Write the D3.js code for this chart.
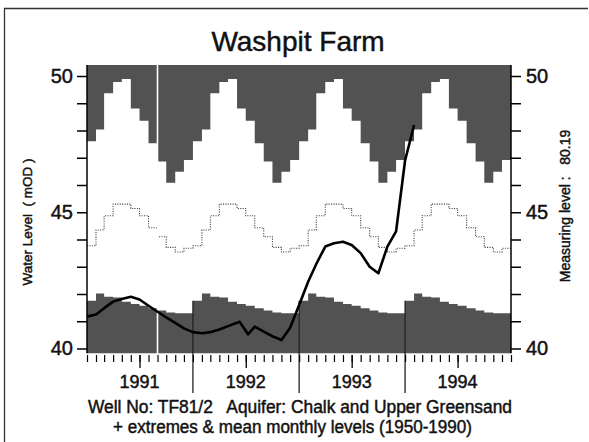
<!DOCTYPE html>
<html>
<head>
<meta charset="utf-8">
<script src="https://cdn.jsdelivr.net/npm/d3@7"></script>
<style>
body { margin: 0; background: #fff; }
text { font-family: "Liberation Sans", Arial, sans-serif; fill: #111; stroke: #111; stroke-width: 0.45px; }
</style>
</head>
<body>
<svg id="chart" width="589" height="442"></svg>
<script>
// ---DATA---//

var years = [ 1991, 1992, 1993, 1994 ];

// historical monthly levels 1950-1990, Jan..Dec (mOD)
var monthlyMax = [ 47.61, 48.04, 49.37, 49.78, 49.89, 48.81, 48.36, 47.53, 46.86, 46.08, 46.49, 46.92 ];
var monthlyMean = [ 43.77, 44.35, 44.87, 45.30, 45.30, 45.14, 44.87, 44.43, 44.10, 43.71, 43.54, 43.68 ];
var monthlyMin = [ 41.75, 42.02, 41.90, 41.87, 41.72, 41.63, 41.57, 41.48, 41.39, 41.32, 41.29, 41.29 ];

// observed readings
var readingDates = [ "1991-01-01", "1991-02-01", "1991-03-01", "1991-04-01", "1991-05-01", "1991-06-01",
		"1991-07-01", "1991-08-01", "1991-09-01", "1991-10-01", "1991-11-01", "1991-12-01",
		"1992-01-01", "1992-02-01", "1992-03-01", "1992-04-01", "1992-05-01", "1992-06-10",
		"1992-07-09", "1992-08-01", "1992-09-01", "1992-10-01", "1992-11-01", "1992-12-01",
		"1993-01-01", "1993-02-01", "1993-03-01", "1993-04-01", "1993-05-01", "1993-06-01",
		"1993-07-01", "1993-08-01", "1993-09-01", "1993-10-01", "1993-11-01", "1993-12-01",
		"1994-01-01", "1994-02-01" ];
var readingLevels = [ 41.17, 41.25, 41.48, 41.72, 41.82, 41.90, 41.80, 41.57, 41.35, 41.14, 40.94, 40.74,
		40.60, 40.56, 40.60, 40.70, 40.82, 40.98, 40.52, 40.80, 40.62, 40.45, 40.31, 40.76,
		41.60, 42.45, 43.10, 43.74, 43.86, 43.92, 43.80, 43.50, 43.00, 42.76, 43.74, 44.30,
		46.90, 48.20 ];

var levelTicks = [ 40, 45, 50 ];

// ---LAYOUT---//

var svg = d3.select("#chart");
var parseDate = d3.timeParse("%Y-%m-%d");

var left = 87, right = 511;
var levelTop = 50.4, levelBottom = 39.83;
var gray = "#525252";

var x = d3.scaleTime()
		.domain([ new Date(1991, 0, 1), new Date(1995, 0, 1) ])
		.range([ left, right ]);

var y = d3.scaleLinear()
		.domain([ 40, 50 ])
		.range([ 348.5, 76 ]);

// monthly step series over the whole period
var months = d3.timeMonth.range(new Date(1991, 0, 1), new Date(1995, 0, 1));
var steps = months.map(function(d) {
	return {
		date : d,
		max : monthlyMax[d.getMonth()],
		mean : monthlyMean[d.getMonth()],
		min : monthlyMin[d.getMonth()]
	};
});
steps.push({
	date : new Date(1995, 0, 1),
	max : monthlyMax[11],
	mean : monthlyMean[11],
	min : monthlyMin[11]
});

// frame
svg.append("path")
		.attr("d", "M4.5,446 V8.5 H588")
		.attr("fill", "none")
		.attr("stroke", "#333")
		.attr("stroke-width", 1.3);

// upper extreme (above max)
var upperArea = d3.area()
		.curve(d3.curveStepAfter)
		.x(function(d) { return x(d.date); })
		.y0(y(levelTop))
		.y1(function(d) { return y(d.max); });

svg.append("path")
		.datum(steps)
		.attr("d", upperArea)
		.attr("fill", gray);

// lower extreme (below min)
var lowerArea = d3.area()
		.curve(d3.curveStepAfter)
		.x(function(d) { return x(d.date); })
		.y0(y(levelBottom))
		.y1(function(d) { return y(d.min); });

svg.append("path")
		.datum(steps)
		.attr("d", lowerArea)
		.attr("fill", gray);

// mean monthly level
var meanLine = d3.line()
		.curve(d3.curveStepAfter)
		.x(function(d) { return x(d.date); })
		.y(function(d) { return y(d.mean); });

svg.append("path")
		.datum(steps)
		.attr("d", meanLine)
		.attr("fill", "none")
		.attr("stroke", "#444")
		.attr("stroke-width", 1.1)
		.attr("stroke-dasharray", "1.1,1.3");

// year boundaries
svg.selectAll(".yearLine").data(years.slice(1)).enter()
		.append("line")
		.attr("class", "yearLine")
		.attr("x1", function(d) { return x(new Date(d, 0, 1)); })
		.attr("x2", function(d) { return x(new Date(d, 0, 1)); })
		.attr("y1", y(monthlyMin[0]))
		.attr("y2", 393)
		.attr("stroke", "#222")
		.attr("stroke-width", 1.3);

// scan gap
svg.append("line")
		.attr("x1", 157.5).attr("x2", 157.5)
		.attr("y1", 62).attr("y2", 392)
		.attr("stroke", "#fff")
		.attr("stroke-width", 1.6);

// hydrograph
var readings = readingDates.map(function(d, i) {
	return { date : parseDate(d), level : readingLevels[i] };
});

var levelLine = d3.line()
		.x(function(d) { return x(d.date); })
		.y(function(d) { return y(d.level); });

svg.append("path")
		.datum(readings)
		.attr("d", levelLine)
		.attr("fill", "none")
		.attr("stroke", "#000")
		.attr("stroke-width", 2.6)
		.attr("stroke-linejoin", "round");

// ---AXES---//

function levelFormat(d) {
	return levelTicks.indexOf(d) >= 0 ? d : "";
}

var leftAxis = svg.append("g")
		.attr("transform", "translate(" + left + ",0)")
		.call(d3.axisLeft(y).tickValues(d3.range(40, 51)).tickSize(10).tickPadding(4).tickFormat(levelFormat));

var rightAxis = svg.append("g")
		.attr("transform", "translate(" + right + ",0)")
		.call(d3.axisRight(y).tickValues(d3.range(40, 51)).tickSize(10).tickPadding(5).tickFormat(levelFormat));

[ leftAxis, rightAxis ].forEach(function(g) {
	g.select(".domain").attr("d", "M0," + y(levelTop) + "V" + y(levelBottom)).attr("stroke-width", 1.5);
	g.selectAll(".tick line").attr("stroke-width", 1.5);
	g.selectAll(".tick text")
			.attr("font-size", "20px")
			.attr("font-family", "Liberation Sans, Arial, sans-serif")
			.attr("fill", "#111")
			.attr("stroke", "#111")
			.attr("stroke-width", 0.7);
});

var monthAxis = svg.append("g")
		.attr("transform", "translate(0,355)")
		.call(d3.axisBottom(x).ticks(d3.timeMonth.every(1)).tickSize(7).tickFormat(""));
monthAxis.select(".domain").remove();
monthAxis.selectAll(".tick line").attr("stroke-width", 1.2);

var midYears = years.map(function(d) { return new Date(d, 6, 1); });

var midAxis = svg.append("g")
		.attr("transform", "translate(0,355)")
		.call(d3.axisBottom(x).tickValues(midYears).tickSize(13).tickFormat(""));
midAxis.select(".domain").remove();
midAxis.selectAll(".tick line").attr("stroke-width", 1.3);

svg.selectAll(".yearLabel").data(years).enter()
		.append("text")
		.attr("class", "yearLabel")
		.attr("x", function(d) { return x(new Date(d, 6, 1)); })
		.attr("y", 388)
		.attr("text-anchor", "middle")
		.attr("font-size", "18px")
		.text(function(d) { return d; });

// ---TEXTS---//

svg.append("text")
		.attr("x", 298)
		.attr("y", 51)
		.attr("text-anchor", "middle")
		.attr("font-size", "28px")
		.text("Washpit Farm");

svg.append("text")
		.attr("transform", "translate(32,222) rotate(-90)")
		.attr("text-anchor", "middle")
		.attr("font-size", "13.5px")
		.style("white-space", "pre")
		.text("Water Level  ( mOD )");

svg.append("text")
		.attr("transform", "translate(570,206) rotate(-90)")
		.attr("text-anchor", "middle")
		.attr("font-size", "14px")
		.style("white-space", "pre")
		.text("Measuring level :   80.19");

svg.append("text")
		.attr("x", 300)
		.attr("y", 413)
		.attr("text-anchor", "middle")
		.attr("font-size", "17.5px")
		.attr("textLength", 424)
		.attr("lengthAdjust", "spacingAndGlyphs")
		.style("white-space", "pre")
		.text("Well No: TF81/2   Aquifer: Chalk and Upper Greensand");

svg.append("text")
		.attr("x", 292.5)
		.attr("y", 433)
		.attr("text-anchor", "middle")
		.attr("font-size", "17.5px")
		.attr("textLength", 359)
		.attr("lengthAdjust", "spacingAndGlyphs")
		.text("+ extremes & mean monthly levels (1950-1990)");
</script>
</body>
</html>
